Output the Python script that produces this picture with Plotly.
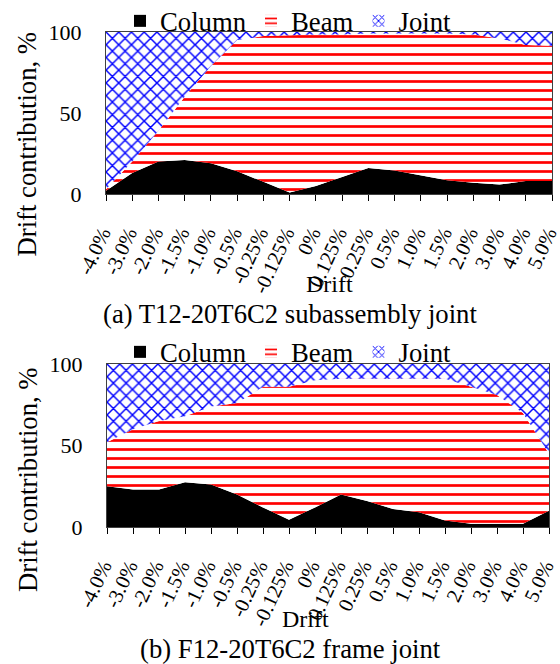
import plotly.graph_objects as go

drift_labels = ["-4.0%", "-3.0%", "-2.0%", "-1.5%", "-1.0%", "-0.5%", "-0.25%", "-0.125%", "0%",
                "0.125%", "0.25%", "0.5%", "1.0%", "1.5%", "2.0%", "3.0%", "4.0%", "5.0%"]

# (a) T12-20T6C2 subassembly joint
column_a = [2, 13, 20, 21, 19, 14, 7.5, 1, 5, 10.5, 16, 14.5, 11.5, 8.5, 7, 5.8, 8, 8]
beam_a = [1, 7, 19, 39, 60, 81, 90, 97, 93.5, 88, 83, 84.5, 87.5, 90.5, 91.5, 90.2, 84, 83.5]
joint_a = [97, 80, 61, 40, 21, 5, 2.5, 2, 1.5, 1.5, 1, 1, 1, 1, 1.5, 4, 8, 8.5]

# (b) F12-20T6C2 frame joint
column_b = [25, 23, 23, 27.5, 26, 20, 12, 4.5, 12, 20, 16, 11, 9, 4, 2, 2, 2, 10]
beam_b = [27, 37, 42, 40.5, 48, 56, 74, 81.5, 78, 71, 75, 80, 82, 87, 84, 79, 68, 35]
joint_b = [48, 40, 35, 32, 26, 24, 14, 14, 10, 9, 9, 9, 9, 9, 14, 19, 30, 55]

series_names = ["Column", "Beam", "Joint"]

FONT = "Liberation Serif, Times New Roman, serif"
BIG = 26.7

fig = go.Figure()

patterns = {
    "Column": None,
    "Beam": dict(shape="-", fgcolor="#ff0000", bgcolor="white", fgopacity=1, size=9, solidity=0.3),
    "Joint": dict(shape="x", fgcolor="#0000ff", bgcolor="white", fgopacity=1, size=9, solidity=0.3),
}
fills = {"Column": "black", "Beam": "white", "Joint": "white"}


def add_panel(col, beam, joint, xa, ya, stack, legend):
    for name, vals in zip(series_names, [col, beam, joint]):
        kw = dict(x=drift_labels, y=vals, name=name, mode="lines", stackgroup=stack,
                  line=dict(width=0), fillcolor=fills[name], xaxis=xa, yaxis=ya,
                  showlegend=False, legendgroup=stack + name)
        if patterns[name] is not None:
            kw["fillpattern"] = patterns[name]
        fig.add_trace(go.Scatter(**kw))
    # legend keys (square swatches like the original)
    for name in series_names:
        marker = dict(color=fills[name], line=dict(width=0))
        if patterns[name] is not None:
            marker["pattern"] = dict(shape=patterns[name]["shape"], fgcolor=patterns[name]["fgcolor"],
                                     bgcolor="white", fgopacity=1, size=6, solidity=0.35)
        fig.add_trace(go.Bar(x=[None], y=[None], name=name, marker=marker, xaxis=xa, yaxis=ya,
                             legend=legend, legendgroup=stack + name, hoverinfo="skip"))


add_panel(column_a, beam_a, joint_a, "x", "y", "a", "legend")
add_panel(column_b, beam_b, joint_b, "x2", "y2", "b", "legend2")

W, H = 560, 664


def px_x(v):
    return v / W


def px_y(v):
    return 1 - v / H


xaxis_common = dict(type="category", range=[0, 17], tickmode="array", tickvals=drift_labels,
                    ticktext=drift_labels, showgrid=False, ticks="outside", ticklen=6,
                    tickcolor="black", tickwidth=1, showline=True, linecolor="#404040", linewidth=1,
                    mirror=True, tickangle=-65, tickfont=dict(family=FONT, size=20.5, color="black"),
                    ticklabelstandoff=12, ticklabelshift=-4, automargin=False)
yaxis_common = dict(range=[0, 100], tickmode="array", tickvals=[0, 50, 100], showgrid=False, zeroline=False,
                    showline=True, linecolor="#404040", linewidth=1, mirror=True, ticks="",
                    tickfont=dict(family=FONT, size=22, color="black"), ticklabelstandoff=19,
                    automargin=False)

legend_common = dict(orientation="h", xanchor="center", yanchor="top",
                     font=dict(family=FONT, size=BIG, color="black"),
                     bgcolor="rgba(0,0,0,0)", itemwidth=30, traceorder="normal")

fig.update_layout(
    width=W, height=H,
    margin=dict(l=0, r=0, t=0, b=0, autoexpand=False),
    paper_bgcolor="white", plot_bgcolor="white",
    font=dict(family=FONT, color="black"),
    xaxis=dict(domain=[px_x(106), px_x(552)], anchor="y", **xaxis_common),
    yaxis=dict(domain=[px_y(194), px_y(32)], anchor="x", **yaxis_common),
    xaxis2=dict(domain=[px_x(107), px_x(549)], anchor="y2", **xaxis_common),
    yaxis2=dict(domain=[px_y(527), px_y(364)], anchor="x2", **yaxis_common),
    legend=dict(x=px_x(288), y=px_y(-3), **legend_common),
    legend2=dict(x=px_x(288), y=px_y(328), **legend_common),
    showlegend=True,
)

annotations = [
    dict(text="Drift contribution, %", x=px_x(26), y=px_y(144.5), textangle=-90, size=BIG),
    dict(text="Drift contribution, %", x=px_x(28), y=px_y(480), textangle=-90, size=BIG),
    dict(text="Drift", x=px_x(329), y=px_y(284), textangle=0, size=24),
    dict(text="Drift", x=px_x(305), y=px_y(619), textangle=0, size=24),
    dict(text="(a) T12-20T6C2 subassembly joint", x=px_x(290), y=px_y(313.5), textangle=0, size=BIG),
    dict(text="(b) F12-20T6C2 frame joint", x=px_x(290), y=px_y(649), textangle=0, size=BIG),
]
for a in annotations:
    fig.add_annotation(text=a["text"], x=a["x"], y=a["y"], xref="paper", yref="paper",
                       xanchor="center", yanchor="middle", showarrow=False, textangle=a["textangle"],
                       font=dict(family=FONT, size=a["size"], color="black"))

# remove the default 8px page margin so the figure fills the window exactly
fig.write_html("out.html", config={"displayModeBar": False},
               post_script="document.body.style.margin='0px';")
